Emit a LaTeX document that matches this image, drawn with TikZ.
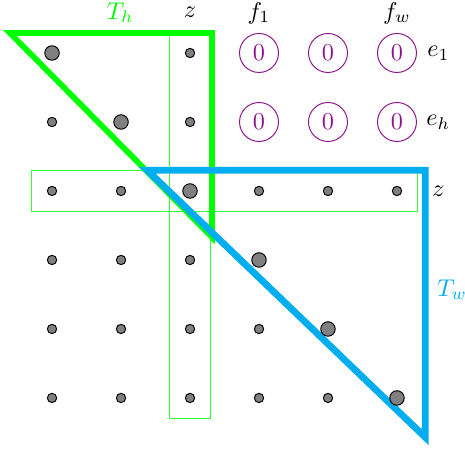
\documentclass[tikz,border=0pt]{standalone}
\usepackage{amsmath,amssymb}
\usepackage{xcolor}
\usepackage{tikz}

\definecolor{tw}{RGB}{0,174,239}
\definecolor{zc}{RGB}{140,20,140}

\begin{document}
\begin{tikzpicture}[
  dot/.style={circle, draw=black, fill=gray, line width=0.4pt, inner sep=0pt, minimum size=1.35mm},
  bigdot/.style={circle, draw=black, fill=gray, line width=0.4pt, inner sep=0pt, minimum size=2.1mm},
  zero/.style={circle, draw=zc, text=zc, line width=0.4pt, inner sep=0pt, minimum size=5.65mm},
  lbl/.style={anchor=base, inner sep=0pt}]
  \useasboundingbox (0.246,-0.232) rectangle (6.986,-6.754);
  % the two blocks picked out by z
  \draw[green!80, line width=0.6pt] (0.7,-2.7) rectangle (6.3,-3.3);
  \draw[green!80, line width=0.6pt] (2.7,-0.7) rectangle (3.3,-6.3);
  % T_h and T_w triangles
  \draw[green, line width=2.4pt, line join=miter] (0.39,-0.71) -- (3.32,-0.71) -- (3.32,-3.67) -- cycle;
  \draw[tw, line width=2.8pt, line join=miter] (2.38,-2.7) -- (6.41,-2.7) -- (6.41,-6.57) -- cycle;
  % row 1
  \node[bigdot] (d11) at (1,-1) {};
  \node[dot]    (d13) at (3,-1) {};
  \node[zero]   (c14) at (4,-1) {$0$};
  \node[zero]   (c15) at (5,-1) {$0$};
  \node[zero]   (c16) at (6,-1) {$0$};
  % row 2
  \node[dot]    (d21) at (1,-2) {};
  \node[bigdot] (d22) at (2,-2) {};
  \node[dot]    (d23) at (3,-2) {};
  \node[zero]   (c24) at (4,-2) {$0$};
  \node[zero]   (c25) at (5,-2) {$0$};
  \node[zero]   (c26) at (6,-2) {$0$};
  % row 3
  \node[dot]    (d31) at (1,-3) {};
  \node[dot]    (d32) at (2,-3) {};
  \node[bigdot] (d33) at (3,-3) {};
  \node[dot]    (d34) at (4,-3) {};
  \node[dot]    (d35) at (5,-3) {};
  \node[dot]    (d36) at (6,-3) {};
  % row 4
  \node[dot]    (d41) at (1,-4) {};
  \node[dot]    (d42) at (2,-4) {};
  \node[dot]    (d43) at (3,-4) {};
  \node[bigdot] (d44) at (4,-4) {};
  % row 5
  \node[dot]    (d51) at (1,-5) {};
  \node[dot]    (d52) at (2,-5) {};
  \node[dot]    (d53) at (3,-5) {};
  \node[dot]    (d54) at (4,-5) {};
  \node[bigdot] (d55) at (5,-5) {};
  % row 6
  \node[dot]    (d61) at (1,-6) {};
  \node[dot]    (d62) at (2,-6) {};
  \node[dot]    (d63) at (3,-6) {};
  \node[dot]    (d64) at (4,-6) {};
  \node[dot]    (d65) at (5,-6) {};
  \node[bigdot] (d66) at (6,-6) {};
  % labels
  \node[lbl, green] (th) at (1.99,-0.51) {$T_h$};
  \node[lbl] (ztop) at (3,-0.49) {$z$};
  \node[lbl] (f1) at (4,-0.51) {$f_1$};
  \node[lbl] (fw) at (6,-0.51) {$f_w$};
  \node[inner sep=0pt] (e1) at (6.6,-1) {$e_1$};
  \node[inner sep=0pt] (eh) at (6.6,-2) {$e_h$};
  \node[inner sep=0pt] (zright) at (6.6,-3) {$z$};
  \node[tw, inner sep=0pt] (tw) at (6.8,-4.43) {$T_w$};
\end{tikzpicture}
\end{document}
